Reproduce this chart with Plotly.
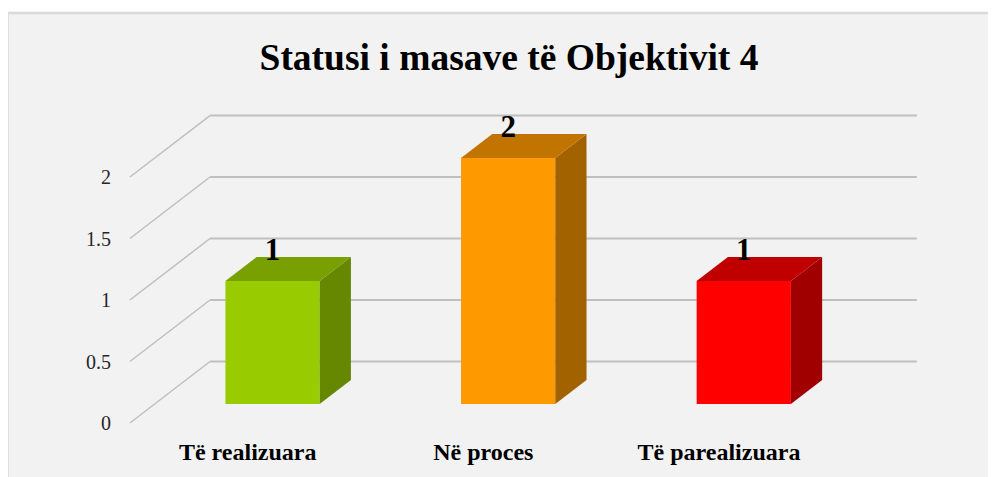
import plotly.graph_objects as go

# ---------------- data ----------------
title_text = "Statusi i masave të Objektivit 4"
categories = ["Të realizuara", "Në proces", "Të parealizuara"]
values = [1, 2, 1]
front_colors = ["#99CC00", "#FF9900", "#FF0000"]
top_colors = ["#77A000", "#C27400", "#C00000"]
side_colors = ["#658800", "#A36200", "#A00000"]
y_ticks = [0, 0.5, 1, 1.5, 2]
y_tick_labels = ["0", "0.5", "1", "1.5", "2"]

# ---------------- 3D look constants (axis units) ----------------
WALL_DX, WALL_DY = 0.34, 0.5      # offset of back wall relative to front plane
F1, F2 = 0.31, 0.70               # depth fraction of bar front / back face
BAR_W = 0.40
LABEL_OFF = 0.39                  # data label above bar value

W_FIG, H_FIG = 996, 477
L, R, T, B = 104, 73, 72, 50
X_RANGE = [-0.576, 2.9]
Y_RANGE = [-0.0976, 2.789]
PW, PH = W_FIG - L - R, H_FIG - T - B

x_pos = list(range(len(categories)))
fdx, fdy = F1 * WALL_DX, F1 * WALL_DY
ddx, ddy = (F2 - F1) * WALL_DX, (F2 - F1) * WALL_DY

fig = go.Figure()

# front faces
fig.add_trace(go.Bar(
    x=[x + fdx for x in x_pos], y=values, base=fdy, width=BAR_W,
    marker=dict(color=front_colors, line=dict(width=0)),
    hoverinfo="skip", showlegend=False,
))

# side and top faces
for x, v, tc, sc in zip(x_pos, values, top_colors, side_colors):
    xl = x + fdx - BAR_W / 2
    xr = x + fdx + BAR_W / 2
    y0 = fdy
    y1 = fdy + v
    fig.add_trace(go.Scatter(
        x=[xr, xr, xr + ddx, xr + ddx, xr], y=[y0, y1, y1 + ddy, y0 + ddy, y0],
        fill="toself", fillcolor=sc, mode="lines", line=dict(width=0, color=sc),
        hoverinfo="skip", showlegend=False))
    fig.add_trace(go.Scatter(
        x=[xl, xr, xr + ddx, xl + ddx, xl], y=[y1, y1, y1 + ddy, y1 + ddy, y1],
        fill="toself", fillcolor=tc, mode="lines", line=dict(width=0, color=tc),
        hoverinfo="skip", showlegend=False))

serif = "Liberation Serif, Times New Roman, serif"

# data labels
fig.add_trace(go.Scatter(
    x=[x + fdx for x in x_pos], y=[v + LABEL_OFF for v in values],
    mode="text", text=[f"<b>{v}</b>" for v in values], textposition="middle center",
    textfont=dict(family=serif, size=31, color="#000000"),
    hoverinfo="skip", showlegend=False))

shapes = []
# back wall gridlines + diagonal side-wall lines
x_front_l, x_front_r = -0.5, len(categories) - 0.5
for t in y_ticks:
    shapes.append(dict(type="line", xref="x", yref="y", layer="below",
                       x0=x_front_l + WALL_DX, x1=x_front_r + WALL_DX,
                       y0=t + WALL_DY, y1=t + WALL_DY,
                       line=dict(color="#BFBFBF", width=2)))
    shapes.append(dict(type="line", xref="x", yref="y", layer="below",
                       x0=x_front_l, x1=x_front_l + WALL_DX,
                       y0=t, y1=t + WALL_DY,
                       line=dict(color="#BFBFBF", width=1.5)))


def px(xp):
    return (xp - L) / PW


def py(yp):
    return (H_FIG - yp - B) / PH


# chart area background + border (cut off at right/bottom like the reference)
shapes.append(dict(type="rect", xref="paper", yref="paper", layer="below",
                   x0=px(-0.5), x1=px(W_FIG + 20), y0=py(5), y1=py(H_FIG + 20),
                   fillcolor="#F2F2F2", line=dict(color="#D9D9D9", width=2.5)))

fig.update_layout(
    width=W_FIG, height=H_FIG, autosize=False,
    margin=dict(l=L, r=R, t=T, b=B, pad=0),
    paper_bgcolor="#FFFFFF", plot_bgcolor="rgba(0,0,0,0)",
    shapes=shapes,
    title=dict(text=f"<b>{title_text}</b>", x=501 / W_FIG, xref="container", xanchor="center",
               y=1 - 49 / H_FIG, yref="container", yanchor="middle",
               font=dict(family=serif, size=37.5, color="#000000")),
    xaxis=dict(range=X_RANGE, tickvals=x_pos, ticktext=[f"<b>{c}</b>" for c in categories],
               showgrid=False, zeroline=False, showline=False, ticks="",
               tickfont=dict(family=serif, size=24, color="#000000"), fixedrange=True),
    yaxis=dict(range=Y_RANGE, tickvals=y_ticks, ticktext=y_tick_labels,
               showgrid=False, zeroline=False, showline=False, ticks="",
               tickfont=dict(family=serif, size=20, color="#262626"), fixedrange=True),
    showlegend=False,
)

fig.write_html("out.html")
